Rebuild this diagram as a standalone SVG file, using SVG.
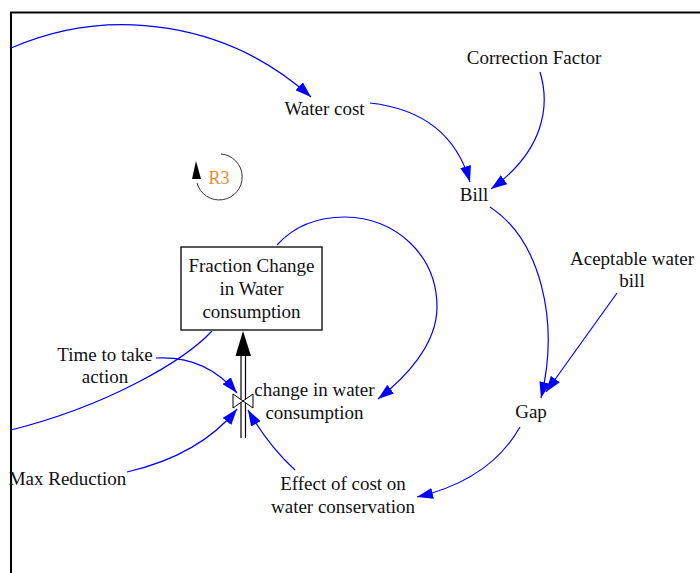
<svg xmlns="http://www.w3.org/2000/svg" width="700" height="573" viewBox="0 0 700 573">
  <style>
    .lbl { font-family: "Liberation Serif", "Times New Roman", serif; font-size: 19px; fill: #111; text-anchor: middle; }
    .loop-lbl { font-family: "Liberation Serif", "Times New Roman", serif; font-size: 18px; fill: #f28c28; text-anchor: middle; }
    .link { fill: none; stroke: #0000ff; stroke-width: 1.2; marker-end: url(#ah); }
    .link-open { fill: none; stroke: #0000ff; stroke-width: 1.2; }
    .frame { stroke: #000; stroke-width: 2; fill: none; }
  </style>
  <defs>
    <marker id="ah" markerUnits="userSpaceOnUse" markerWidth="17" markerHeight="11" refX="16" refY="5.5" orient="auto">
      <path d="M0,0 L16,5.5 L0,11 Z" fill="#0000ff"/>
    </marker>
  </defs>

  <rect width="700" height="573" fill="#fff"/>

  <!-- sheet border -->
  <path class="frame" d="M11,573 L11,12.5 L700,12.5"/>

  <!-- loop marker R3 -->
  <g id="loop-R3">
    <path d="M221,154 A23,23 0 1 1 197,183" fill="none" stroke="#333" stroke-width="1"/>
    <polygon points="196,161 192,179 201,179" fill="#000"/>
    <text class="loop-lbl" x="219" y="184">R3</text>
  </g>

  <!-- stock -->
  <g id="stock-fraction-change">
    <rect x="181" y="247" width="141" height="83" fill="#fff" stroke="#000" stroke-width="1.3"/>
    <text class="lbl" x="251.5" y="272">Fraction Change</text>
    <text class="lbl" x="251.5" y="295">in Water</text>
    <text class="lbl" x="251.5" y="318">consumption</text>
  </g>

  <!-- flow with valve -->
  <g id="flow-change-in-water">
    <line x1="241" y1="355" x2="241" y2="438" stroke="#000" stroke-width="1.2"/>
    <line x1="245.5" y1="355" x2="245.5" y2="438" stroke="#000" stroke-width="1.2"/>
    <polygon points="243,331 235.5,356 251,356" fill="#000"/>
    <path d="M233,394 L243,401 L233,408 Z M253,394 L243,401 L253,408 Z" fill="#fff" stroke="#000" stroke-width="1"/>
    <text class="lbl" x="314.5" y="396">change in water</text>
    <text class="lbl" x="314.5" y="419">consumption</text>
  </g>

  <g id="aux-water-cost"><text class="lbl" x="324.5" y="115">Water cost</text></g>
  <g id="aux-correction-factor"><text class="lbl" x="534" y="64">Correction Factor</text></g>
  <g id="aux-bill"><text class="lbl" x="474" y="201">Bill</text></g>
  <g id="aux-acceptable-bill">
    <text class="lbl" x="632" y="265">Aceptable water</text>
    <text class="lbl" x="632" y="287">bill</text>
  </g>
  <g id="aux-gap"><text class="lbl" x="531" y="418">Gap</text></g>
  <g id="aux-effect-of-cost">
    <text class="lbl" x="343" y="490">Effect of cost on</text>
    <text class="lbl" x="343" y="513">water conservation</text>
  </g>
  <g id="aux-time-to-act">
    <text class="lbl" x="105" y="361">Time to take</text>
    <text class="lbl" x="105" y="383">action</text>
  </g>
  <g id="aux-max-reduction"><text class="lbl" x="67.5" y="485">Max Reduction</text></g>

  <!-- causal links -->
  <g id="connectors">
    <path class="link" d="M11,48 A281,281 0 0 1 311,97"/>
    <path class="link-open" d="M212,331 C185,360 110,405 11,430"/>
    <path class="link" d="M370,103 Q450,112 470,182"/>
    <path class="link" d="M540,72 C550,105 545,150 491,189"/>
    <path class="link" d="M490,207 C540,240 560,320 541,398"/>
    <path class="link" d="M617,293 L546,392"/>
    <path class="link" d="M520,427 Q490,480 417,497"/>
    <path class="link" d="M295,470 Q268,445 248,410"/>
    <path class="link" d="M277,245 C295,225 320,217 345,217 C395,217 437,255 437,307 C437,345 405,378 378,399"/>
    <path class="link" d="M156,358 Q205,355 237,393"/>
    <path class="link" d="M127,472 Q200,455 237,409"/>
  </g>
</svg>
